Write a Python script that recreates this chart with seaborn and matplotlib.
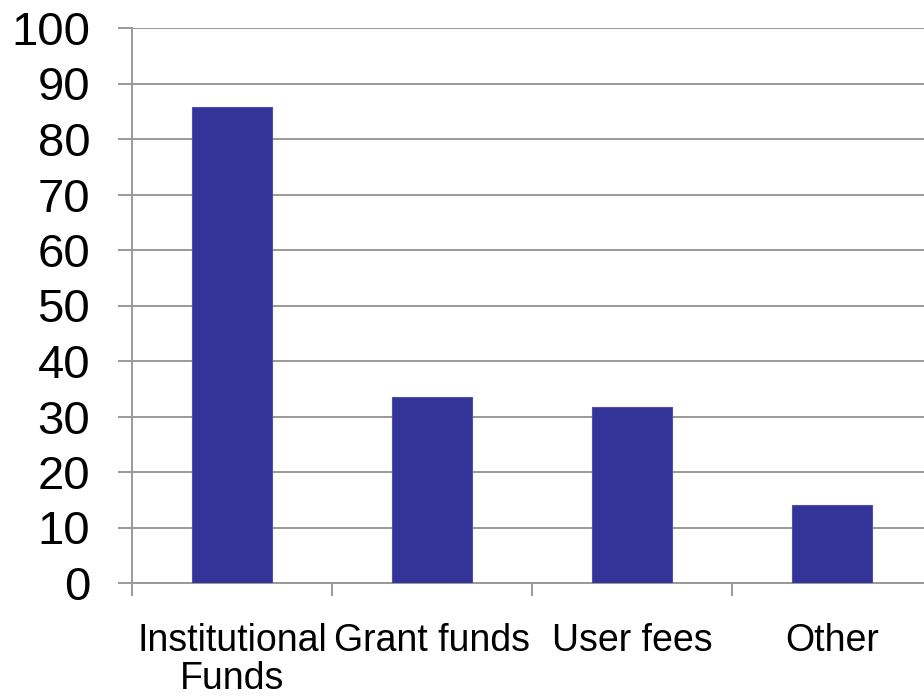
import matplotlib
matplotlib.use("Agg")
import matplotlib.pyplot as plt
import seaborn as sns
import pandas as pd

# ================================
# Data
# ================================

categories = ["Institutional\nFunds", "Grant funds", "User fees", "Other"]
values = [85.8, 33.5, 31.7, 14.1]
y_ticks = [0, 10, 20, 30, 40, 50, 60, 70, 80, 90, 100]

data = pd.DataFrame({"source": categories, "value": values})

# ================================
# Style
# ================================

sns.set_style("white")
plt.rcParams["font.family"] = ["Liberation Sans", "DejaVu Sans"]

grid_color = "#999999"
bar_color = "#333399"

fig = plt.figure(figsize=(9.24, 6.98), dpi=100)
# plot area runs past the right edge, as in the original
ax = fig.add_axes([132 / 924, 115 / 698, 800 / 924, 555 / 698])

sns.barplot(data=data, x="source", y="value", color=bar_color,
            width=0.4, edgecolor="#5050a8", linewidth=0.8,
            saturation=1, ax=ax, zorder=3)

ax.set_xlim(-0.5, len(categories) - 0.5)
ax.set_ylim(0, 100)
ax.set_yticks(y_ticks)
ax.set_yticklabels([str(t) for t in y_ticks], fontsize=34)

ax.yaxis.grid(True, color=grid_color, linewidth=1.4, zorder=0)
ax.set_axisbelow(True)

# category labels without marks, boundary ticks as minor ticks
ax.set_xticks(range(len(categories)))
ax.set_xticklabels(categories, fontsize=27, linespacing=1.05)
ax.set_xticks([i - 0.5 for i in range(len(categories) + 1)], minor=True)
ax.tick_params(axis="x", which="major", bottom=True, length=0, pad=29,
               labelcolor="black")
ax.tick_params(axis="x", which="minor", bottom=True, length=9, width=1.4,
               color=grid_color, direction="out")
ax.tick_params(axis="y", left=True, length=10, width=1.4, color=grid_color,
               direction="out", pad=20, labelcolor="black")

for side in ["top", "right"]:
    ax.spines[side].set_visible(False)
for side in ["left", "bottom"]:
    ax.spines[side].set_color(grid_color)
    ax.spines[side].set_linewidth(1.4)

ax.set_xlabel("")
ax.set_ylabel("")

fig.savefig("out.png", dpi=100)
